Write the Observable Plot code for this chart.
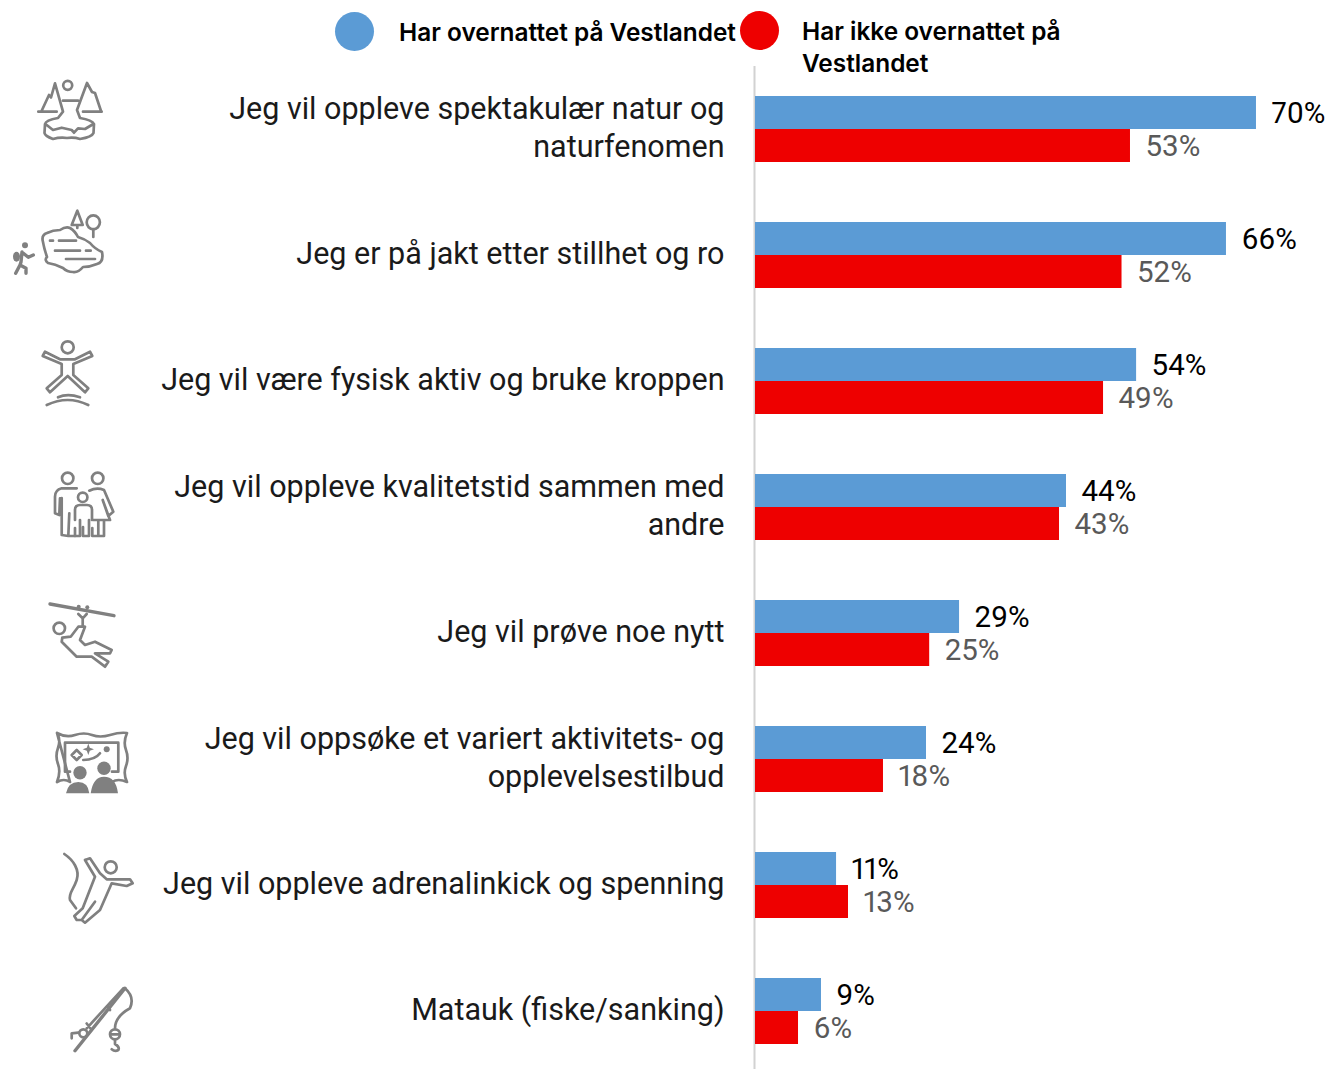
<!DOCTYPE html>
<html lang="no">
<head>
<meta charset="utf-8">
<script src="https://cdn.jsdelivr.net/npm/d3@7"></script>
<script src="https://cdn.jsdelivr.net/npm/@observablehq/plot@0.6"></script>
<style>
  html, body { margin: 0; padding: 0; background: #fff; }
  #wrap { position: relative; width: 1329px; height: 1069px; overflow: hidden; font-family: Inter, sans-serif; }
  #chart svg { display: block; position: absolute; left: 0; top: 0; }
  .lg { position: absolute; font-weight: 600; font-size: 24.4px; line-height: 32px; color: #000; letter-spacing: 0; }
  .sw { position: absolute; width: 39px; height: 39px; border-radius: 50%; }
  #icons { position: absolute; left: 0; top: 0; pointer-events: none; }
  #icons * { fill: none; stroke: #808080; stroke-width: 2.7; stroke-linecap: round; stroke-linejoin: round; }
  #icons .f { fill: #808080; stroke: none; }
  #icons .t { stroke-width: 3.4; }
</style>
</head>
<body>
<div id="wrap">
  <div id="chart"></div>
  <div class="sw" style="left:335px;top:12px;background:#5B9BD5"></div>
  <div class="lg" id="lg0" style="left:399px;top:16px;white-space:nowrap"></div>
  <div class="sw" style="left:740px;top:11px;background:#EE0000"></div>
  <div class="lg" id="lg1" style="left:802px;top:15px;width:300px"></div>
  <svg id="icons" width="1329" height="1069" viewBox="0 0 1329 1069" aria-hidden="true">
    <!-- 1 natur -->
    <circle cx="67.7" cy="85.3" r="4.5"/>
    <path d="M38.3 111.7H56.7M41.7 110.7L49 95L51 97.5L55 83.3L63 111.7L58 118Q46 120 45 124L44.5 133Q45 136 53 139Q60 137 67 138Q74 137 80 139Q92 137 93.5 133L94 124Q92 120 80 118L77 110L87 83L92 92L95 93L101 111M63 100.7H78M83 111.7H101.7M46.7 125L53 130L61.7 127.7L71.7 130L74 132.7L78 128.3L85 129L91.7 125"/>
    <!-- 2 stillhet -->
    <path d="M43 242Q41 235 47 233Q53 230 60 230Q66 226 70 228Q75 231 78 237Q85 239 90 243Q95 249 102 252Q104 262 97 264Q90 267 83 267Q78 273 73 272Q67 272 63 268Q55 264 48 263Q44 260 47 257Q44 248 43 242Z"/>
    <path d="M50 240.7H53M59 240.7H76M55 250.7H80M86 250.7H90.7M66 259H95"/>
    <path d="M77.3 210.7L71.7 225H82.7ZM77.3 225V228M93.3 229V237"/>
    <ellipse cx="93.3" cy="222.3" rx="6.6" ry="7"/>
    <circle class="f" cx="25" cy="245.3" r="3"/>
    <ellipse class="f" cx="16.5" cy="256.7" rx="3.5" ry="5"/>
    <path class="t" d="M22 252L21 262L20 265L15.7 273.3M20 265L26 268.3L26 273.3M23 253L28.3 257.3L33.3 255"/>
    <!-- 3 fysisk -->
    <circle cx="67.7" cy="347.3" r="6"/>
    <path d="M45 351.7L60 359.3H75L90 351.7L92.3 356L73.3 364V375L88.3 388.3L85 392.3L67.7 376L50 392.3L46.7 388.3L61.7 375V364L42.7 356Z"/>
    <path d="M58 397.3Q67.7 393 80 397.3M46.7 405Q67.7 395 88.3 405"/>
    <!-- 4 kvalitetstid -->
    <circle cx="67.7" cy="478.3" r="5.7"/><circle cx="97.7" cy="478.3" r="5.7"/><circle cx="82.7" cy="497.3" r="4.7"/>
    <path d="M76.7 488.3H61.7Q55 490 55 496.7V513.3L59.3 515L60 498.3M61.7 498V535L68.3 536L69.3 513.3M69.3 536H75V528"/>
    <path d="M75 520V510Q75 505 80 505H87Q92 505 92 510V520M80 520V536H75M83 527V536H89V520"/>
    <path d="M89.3 490.7Q96.7 487 104 490L113.3 511.7L108.3 516L102.7 500L110 520H93.3M98.3 520.7V536H92.3V528M104 520.7V536H98.3"/>
    <!-- 5 prove noe nytt -->
    <path class="t" d="M50 604L114 615.7"/>
    <circle class="f" cx="78.7" cy="606.7" r="2"/><circle class="f" cx="87.3" cy="607.3" r="2"/>
    <circle cx="59.3" cy="628.3" r="5.7"/>
    <path d="M78.3 614L82.7 618.3L86.7 614M82.7 618.3V625M78.3 626.7L70.7 636.7L62.3 637.7L61.7 641.7L76.7 656.7H91.7L105 666.7L108.3 661.7L95 653.3H110L111.7 650L95 641.7L85 645L80 640L85 626.7Z"/>
    <!-- 6 aktivitet -->
    <path d="M57 733Q66 738 75 735T92 735T110 735T127 733Q123 742 126 750T126 766T127 782Q118 778 112 782M70 782Q64 778 57 782Q61 772 58 764T58 748T57 733Z"/>
    <path d="M65 771.7V742.7H118.3V771.7M65 771.7H70M112 771.7H118.3"/>
    <path d="M76.7 750L81.7 755L76.7 760L71.7 755ZM83.3 760Q95 760 100 753.3"/>
    <path class="f" d="M88.3 743.5L89.8 747.8L94 749.3L89.8 750.8L88.3 755L86.8 750.8L82.6 749.3L86.8 747.8Z"/>
    <circle class="f" cx="106.7" cy="749.3" r="3"/>
    <circle class="f" cx="80" cy="772.7" r="6.7"/><circle class="f" cx="104" cy="768.3" r="6.7"/>
    <path class="f" d="M66 793.3Q68.3 782 78.3 782Q88 782 89.3 793.3ZM90.7 793.3Q93 776.7 104 776.7Q116 776.7 118 793.3Z"/>
    <!-- 7 adrenalin -->
    <path d="M64.3 854C73.3 860 80 870 76.7 880S68.3 893 70 900L76 908.3"/>
    <circle cx="110.7" cy="867.3" r="6"/>
    <path d="M85 860L90 858.3L100 873.3L106.7 879.3H130L132.7 883.3L126.7 886L111.7 883.3L100 910L85 922.7L81.7 920L95 901.7M85 860L95 876.7L82.7 908.3L74.3 916L76.7 920H81.7"/>
    <!-- 8 matauk -->
    <path class="t" d="M75 1050.7L125 988.3"/>
    <circle cx="83.3" cy="1033.3" r="4"/>
    <path d="M86.7 1028.3L123.3 988.3M86.7 1023.5L91.7 1030M108 1006.5L110 1010M71.7 1038.3V1033.3L78.3 1032.7M125 988.3Q135 997 130 1008.3Q115 1016.7 115 1028.3M111 1034.3H119M115 1040V1044Q120 1047 118.3 1050Q115 1052 111.7 1049.3"/>
    <circle cx="115" cy="1034.3" r="5"/>
  </svg>
</div>
<script>
const categories = [
  "Jeg vil oppleve spektakulær natur og\nnaturfenomen",
  "Jeg er på jakt etter stillhet og ro",
  "Jeg vil være fysisk aktiv og bruke kroppen",
  "Jeg vil oppleve kvalitetstid sammen med\nandre",
  "Jeg vil prøve noe nytt",
  "Jeg vil oppsøke et variert aktivitets- og\nopplevelsestilbud",
  "Jeg vil oppleve adrenalinkick og spenning",
  "Matauk (fiske/sanking)"
];
const seriesNames = ["Har overnattet på Vestlandet", "Har ikke overnattet på Vestlandet"];
const overnattet = [70.46, 66.24, 53.6, 43.74, 28.7, 24.05, 11.4, 9.28];
const ikkeOvernattet = [52.74, 51.55, 48.95, 42.76, 24.5, 18.0, 13.08, 6.05];
const seriesColors = ["#5B9BD5", "#EE0000"];
const labelColors = ["#000000", "#595959"];

const rows0 = categories.map((c, i) => ({category: c, value: overnattet[i]}));
const rows1 = categories.map((c, i) => ({category: c, value: ikkeOvernattet[i]}));
const pct = d => Math.round(d.value) + "%";
const font = "Roboto, sans-serif";

const chart = Plot.plot({
  width: 1329, height: 1069,
  marginTop: 66, marginBottom: 0, marginLeft: 0, marginRight: 0,
  x: {domain: [0, 80], range: [755, 1323.8], axis: null},
  y: {domain: categories, range: [66, 1074], padding: 0, axis: null},
  style: {fontFamily: font, background: "#fff"},
  marks: [
    Plot.ruleX([0], {stroke: "#D2D2D2", strokeWidth: 2, dx: -1}),
    Plot.barX(rows0, {x: "value", y: "category", fill: seriesColors[0], insetTop: 30, insetBottom: 63}),
    Plot.barX(rows1, {x: "value", y: "category", fill: seriesColors[1], insetTop: 63, insetBottom: 30}),
    Plot.text(rows0, {x: "value", y: "category", text: pct, dx: 15, dy: -16, textAnchor: "start", fontSize: 29.5, fontVariant: "proportional-nums", fill: labelColors[0]}),
    Plot.text(rows1, {x: "value", y: "category", text: pct, dx: 15, dy: 17, textAnchor: "start", fontSize: 29.5, fontVariant: "proportional-nums", fill: labelColors[1]}),
    Plot.text(categories, {x: () => 0, y: d => d, text: d => d, dx: -31, dy: -4, textAnchor: "end", fontSize: 30.5, lineHeight: 1.246, fill: "#1a1a1a"})
  ]
});
document.getElementById("chart").append(chart);
document.getElementById("lg0").textContent = seriesNames[0];
document.getElementById("lg1").textContent = seriesNames[1];
</script>
</body>
</html>
